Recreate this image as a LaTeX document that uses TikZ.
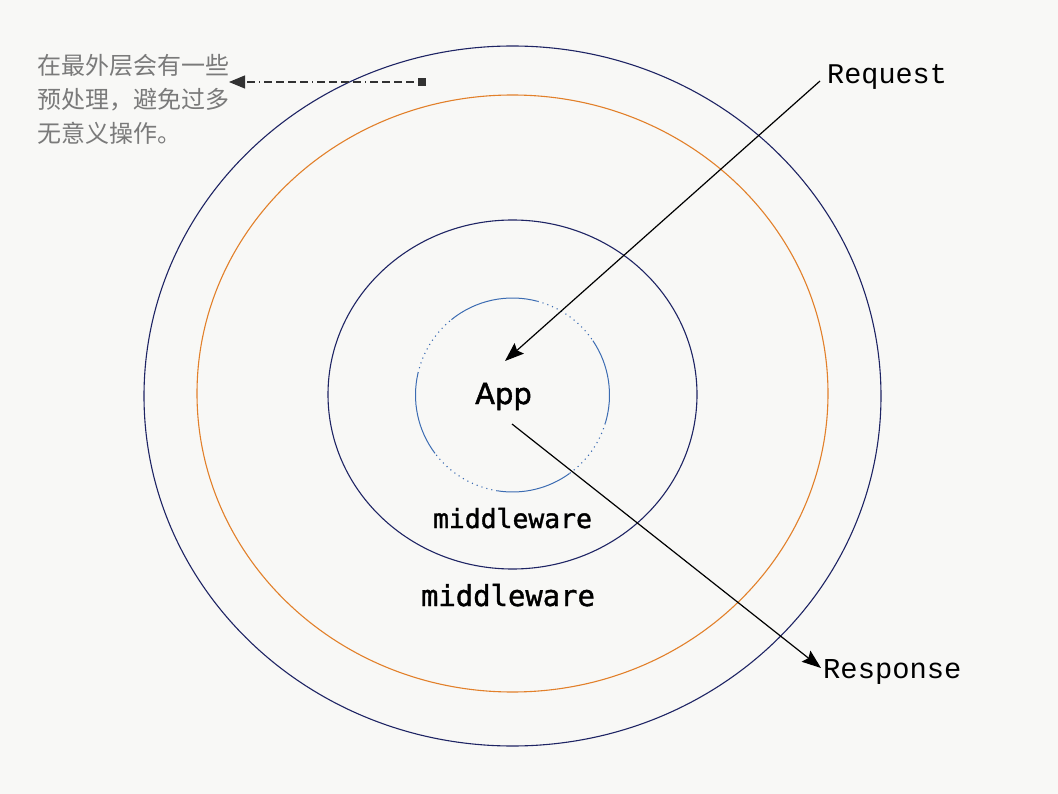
\documentclass[tikz,border=0pt]{standalone}
\usepackage{fontspec}
\newfontfamily\cjk{Noto Sans CJK SC}
\newfontfamily\reqfont{Liberation Mono}
\newfontfamily\mwfont[FakeBold=1.3]{DejaVu Sans Mono}
\newfontfamily\appfont[FakeBold=1.6]{DejaVu Sans}
\usetikzlibrary{arrows.meta}
\definecolor{bg}{RGB}{248,248,246}
\definecolor{navy}{RGB}{30,36,100}
\definecolor{orng}{RGB}{226,128,42}
\definecolor{innerblue}{RGB}{60,108,178}
\definecolor{notegrey}{RGB}{122,122,122}
\definecolor{arrowgrey}{RGB}{50,50,50}
\tikzset{
  ring/.style={line width=1.1pt},
  innersolid/.style={draw=innerblue,line width=1pt},
  innerdot/.style={draw=innerblue,line width=1.1pt,dash pattern=on 1.1pt off 4pt},
  flow/.style={draw=black,line width=1.2pt,-{Stealth[length=19pt,width=14pt,inset=3pt]}},
  notearrow/.style={draw=arrowgrey,line width=1.1pt,dash pattern=on 1pt off 4pt on 8pt off 4pt on 8pt off 4pt on 8pt off 4pt on 8pt off 4pt,
    {Square[length=8pt,width=8pt]}-{Triangle[length=16pt,width=13pt]}},
  notetext/.style={anchor=base west,inner sep=0pt,text=notegrey,font=\cjk\fontsize{24}{34}\selectfont},
  mw/.style={inner sep=0pt,anchor=base},
}
\begin{document}
\begin{tikzpicture}[x=1pt,y=-1pt]
\useasboundingbox (0,0) rectangle (1058,794);
\fill[bg] (0,0) rectangle (1058,794);
% rings
\coordinate (c) at (512.5,395);
\draw[ring,navy] (512.5,396) ellipse[x radius=368.5,y radius=350];
\draw[ring,orng] (512.5,393.5) ellipse[x radius=315.5,y radius=298.5];
\draw[ring,navy] (512.5,394.5) ellipse[x radius=184.5,y radius=174.5];
% inner ring: solid arcs and dotted arcs
\draw[innersolid] ([shift={(-129:97)}]c) arc[start angle=-129,end angle=-75,radius=97];
\draw[innersolid] ([shift={(143:97)}]c) arc[start angle=143,end angle=193,radius=97];
\draw[innersolid] ([shift={(54:97)}]c) arc[start angle=54,end angle=99,radius=97];
\draw[innersolid] ([shift={(-34:97)}]c) arc[start angle=-34,end angle=17,radius=97];
\draw[innerdot] ([shift={(-75:97)}]c) arc[start angle=-75,end angle=-34,radius=97];
\draw[innerdot] ([shift={(17:97)}]c) arc[start angle=17,end angle=54,radius=97];
\draw[innerdot] ([shift={(99:97)}]c) arc[start angle=99,end angle=143,radius=97];
\draw[innerdot] ([shift={(193:97)}]c) arc[start angle=193,end angle=231,radius=97];
% texts
\node[anchor=base,inner sep=0pt,font=\appfont\fontsize{29}{32}\selectfont] (app) at (503.5,404) {App};
\node[mw,font=\mwfont\fontsize{26.4}{30}\selectfont] (mw1) at (512.5,528) {middleware};
\node[mw,font=\mwfont\fontsize{28.9}{32}\selectfont] (mw2) at (508,606) {middleware};
\node[anchor=base west,inner sep=0pt,font=\reqfont\fontsize{28.5}{32}\selectfont] (req) at (827,84) {Request};
\node[anchor=base west,inner sep=0pt,font=\reqfont\fontsize{28.8}{32}\selectfont] (resp) at (823,678) {Response};
\node[notetext] (note1) at (37,75) {在最外层会有一些};
\node[notetext] (note2) at (37,109) {预处理，避免过多};
\node[notetext] (note3) at (37,143) {无意义操作。};
% connectors
\coordinate (reqstart) at (820,81);
\coordinate (reqend) at (505,361);
\coordinate (respstart) at (512,424);
\coordinate (respend) at (821,668);
\draw[flow] (reqstart) -- (reqend);
\draw[flow] (respstart) -- (respend);
\coordinate (notestart) at (426,82);
\coordinate (noteend) at (229,82);
\draw[notearrow] (notestart) -- (noteend);
\end{tikzpicture}
\end{document}
